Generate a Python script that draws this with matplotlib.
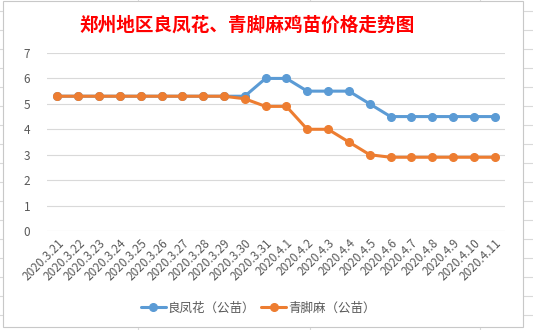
import matplotlib
matplotlib.use("Agg")
import matplotlib.pyplot as plt
from matplotlib.patches import Rectangle
from matplotlib.lines import Line2D

plt.rcParams['font.family'] = ['Noto Sans CJK SC', 'DejaVu Sans']

dates = ["2020.3.21", "2020.3.22", "2020.3.23", "2020.3.24", "2020.3.25", "2020.3.26",
         "2020.3.27", "2020.3.28", "2020.3.29", "2020.3.30", "2020.3.31", "2020.4.1",
         "2020.4.2", "2020.4.3", "2020.4.4", "2020.4.5", "2020.4.6", "2020.4.7",
         "2020.4.8", "2020.4.9", "2020.4.10", "2020.4.11"]
liangfenghua = [5.3, 5.3, 5.3, 5.3, 5.3, 5.3, 5.3, 5.3, 5.3, 5.3, 6.0, 6.0,
                5.5, 5.5, 5.5, 5.0, 4.5, 4.5, 4.5, 4.5, 4.5, 4.5]
qingjiaoma = [5.3, 5.3, 5.3, 5.3, 5.3, 5.3, 5.3, 5.3, 5.3, 5.2, 4.9, 4.9,
              4.0, 4.0, 3.5, 3.0, 2.9, 2.9, 2.9, 2.9, 2.9, 2.9]
series_names = ["良凤花（公苗）", "青脚麻（公苗）"]
title = "郑州地区良凤花、青脚麻鸡苗价格走势图"

W, H = 533, 330
fig = plt.figure(figsize=(W / 100, H / 100), dpi=100)

# spreadsheet grid in background
for y in range(11, H, 19):
    fig.add_artist(Line2D([0, 1], [1 - y / H, 1 - y / H], color="#d9d9d9", lw=0.8, zorder=0))
for x in [138, 310, 480]:
    fig.add_artist(Line2D([x / W, x / W], [0, 1], color="#d9d9d9", lw=0.8, zorder=0))
# chart area
fig.add_artist(Rectangle((3 / W, 1 - 327 / H), (523 - 3) / W, (327 - 1) / H,
                         facecolor="white", edgecolor="#c8c8c8", lw=0.8, zorder=1))

ax = fig.add_axes([47 / W, 1 - 231 / H, (505 - 47) / W, (231 - 53) / H], zorder=2)
ax.set_facecolor("none")
x = list(range(len(dates)))
ax.plot(x, liangfenghua, color="#5B9BD5", lw=2.2, marker="o", markersize=5.5,
        label=series_names[0], solid_capstyle="round", zorder=3)
ax.plot(x, qingjiaoma, color="#ED7D31", lw=2.2, marker="o", markersize=5.5,
        label=series_names[1], solid_capstyle="round", zorder=4)

ax.set_xlim(-0.5, len(dates) - 0.5)
ax.set_ylim(0, 7)
ax.set_yticks(range(0, 8))
ax.grid(axis="y", color="#d9d9d9", lw=0.8)
ax.set_axisbelow(True)
for s in ax.spines.values():
    s.set_visible(False)
ax.tick_params(axis="both", length=0, colors="#595959", labelsize=8.5)
ax.tick_params(axis="y", pad=12)
ax.set_xticks(x)
ax.set_xticklabels(dates, rotation=45, ha="right", rotation_mode="anchor")
ax.tick_params(axis="x", pad=4)

fig.text(247 / W, 1 - 25 / H, title, color="red", fontsize=13.4, fontweight="bold",
         ha="center", va="center", zorder=5)

leg = fig.legend(loc="center", bbox_to_anchor=(258 / W, 1 - 308 / H), ncol=2,
                 frameon=False, fontsize=9, handlelength=2.0, columnspacing=0.5,
                 handletextpad=0.15, labelcolor="#595959")

fig.savefig("out.png", dpi=100)
